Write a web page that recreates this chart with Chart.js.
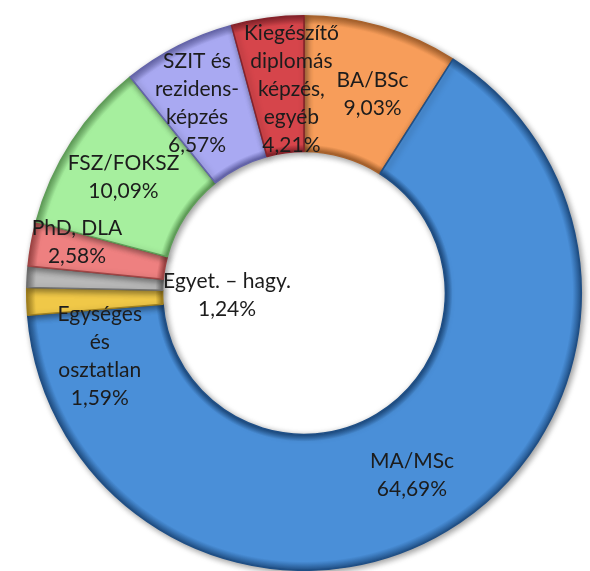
<!DOCTYPE html>
<html>
<head>
<meta charset="utf-8">
<script src="https://cdn.jsdelivr.net/npm/chart.js@4/dist/chart.umd.min.js"></script>
<style>
  html, body { margin: 0; padding: 0; background: #fff; }
  #wrap { width: 590px; height: 571px; position: relative; }
</style>
</head>
<body>
<div id="wrap"><canvas id="donut"></canvas></div>
<script>
// data, clockwise from 12 o'clock
const categories = ['BA/BSc', 'MA/MSc', 'Egységes és osztatlan', 'Egyet. – hagy.', 'PhD, DLA', 'FSZ/FOKSZ', 'SZIT és rezidensképzés', 'Kiegészítő diplomás képzés, egyéb'];
const shares = [9.03, 64.69, 1.59, 1.24, 2.58, 10.09, 6.57, 4.21];
const labelLines = [
    ['BA/BSc'],
    ['MA/MSc'],
    ['Egységes', 'és', 'osztatlan'],
    ['Egyet. – hagy.'],
    ['PhD, DLA'],
    ['FSZ/FOKSZ'],
    ['SZIT és', 'rezidens-', 'képzés'],
    ['Kiegészítő', 'diplomás', 'képzés,', 'egyéb']
];

const fills = ['#f79d5a', '#4a8fd8', '#f0c848', '#b9b9b9', '#ee8080', '#a6ef9e', '#a9a9f2', '#d6454b'];
const darks = ['#a8622c', '#1f4f86', '#a0801f', '#707070', '#a04444', '#5f9e58', '#6464aa', '#85222a'];

// label nudges away from the arc centroid (Excel moved the small ones)
const nudges = [[10, 2], [0, 3], [5, 57], [132, 14], [-21, -14], [-5, -2], [-12, -3], [15, 4]];

const fmt = v => v.toFixed(2).replace('.', ',') + '%';
const CUT = 0.51;

// bevel-ish look: darker rims at inner and outer edge
function bevel(context) {
    const chart = context.chart;
    const area = chart.chartArea;
    const i = context.dataIndex;
    if (!area) return fills[i];
    const cx = (area.left + area.right) / 2;
    const cy = (area.top + area.bottom) / 2;
    const outer = Math.min(area.right - area.left, area.bottom - area.top) / 2;
    const inner = outer * CUT;
    const g = chart.ctx.createRadialGradient(cx, cy, inner, cx, cy, outer);
    g.addColorStop(0, darks[i]);
    g.addColorStop(0.05, fills[i]);
    g.addColorStop(0.93, fills[i]);
    g.addColorStop(1, darks[i]);
    return g;
}

const shadowPlugin = {
    id: 'shadow',
    beforeDatasetDraw(chart) {
        const ctx = chart.ctx;
        ctx.save();
        ctx.shadowColor = 'rgba(0,0,0,0.4)';
        ctx.shadowBlur = 6;
        ctx.shadowOffsetX = 2;
        ctx.shadowOffsetY = 2;
    },
    afterDatasetDraw(chart) {
        chart.ctx.restore();
    }
};

const labelPlugin = {
    id: 'sliceLabels',
    afterDatasetsDraw(chart) {
        const ctx = chart.ctx;
        const arcs = chart.getDatasetMeta(0).data;
        ctx.save();
        ctx.font = '21px Lato, "Open Sans", sans-serif';
        ctx.fillStyle = '#1c1c1c';
        ctx.textAlign = 'center';
        ctx.textBaseline = 'middle';
        const lh = 28;
        arcs.forEach((arc, i) => {
            const p = arc.tooltipPosition();
            const lines = labelLines[i].concat([fmt(shares[i])]);
            const x = p.x + nudges[i][0];
            const y0 = p.y + nudges[i][1] - (lines.length - 1) * lh / 2;
            lines.forEach((t, k) => ctx.fillText(t, x, y0 + k * lh));
        });
        ctx.restore();
    }
};

new Chart(document.getElementById('donut').getContext('2d'), {
    type: 'doughnut',
    data: {
        labels: categories,
        datasets: [{
            data: shares,
            backgroundColor: bevel,
            borderColor: darks,
            borderWidth: 1.5,
            hoverOffset: 0
        }]
    },
    options: {
        responsive: true,
        maintainAspectRatio: false,
        animation: false,
        cutout: (CUT * 100) + '%',
        layout: { padding: { left: 26, right: 8, top: 15, bottom: 0 } },
        plugins: {
            legend: { display: false },
            tooltip: { enabled: false }
        }
    },
    plugins: [shadowPlugin, labelPlugin]
});
</script>
</body>
</html>
